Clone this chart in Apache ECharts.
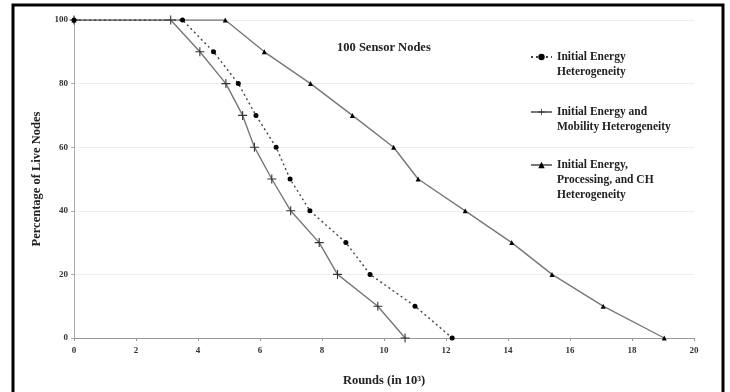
<!DOCTYPE html>
<html>
<head>
<meta charset="utf-8">
<script src="https://cdn.jsdelivr.net/npm/echarts@6/dist/echarts.min.js"></script>
<style>
html,body{margin:0;padding:0;background:#fff;}
#chart{width:730px;height:392px;}
</style>
</head>
<body>
<div id="chart"></div>
<script>
// Data (x in thousands of rounds, y in % live nodes)
const seriesNames = [
  'Initial Energy\nHeterogeneity',
  'Initial Energy and\nMobility Heterogeneity',
  'Initial Energy,\nProcessing, and CH\nHeterogeneity'
];
const xTicks = [0, 2, 4, 6, 8, 10, 12, 14, 16, 18, 20];
const yTicks = [0, 20, 40, 60, 80, 100];
const energyX = [0, 3.5, 4.5, 5.3, 5.87, 6.52, 6.97, 7.61, 8.77, 9.55, 11.0, 12.2];
const energyY = [100, 100, 90, 80, 70, 60, 50, 40, 30, 20, 10, 0];
const mobilityX = [0, 3.12, 4.06, 4.9, 5.44, 5.82, 6.38, 6.99, 7.91, 8.5, 9.8, 10.68];
const mobilityY = [100, 100, 90, 80, 70, 60, 50, 40, 30, 20, 10, 0];
const processingX = [0, 4.88, 6.14, 7.63, 8.98, 10.31, 11.1, 12.62, 14.12, 15.42, 17.07, 19.04];
const processingY = [100, 100, 90, 80, 70, 60, 50, 40, 30, 20, 10, 0];

const pair = (xs, ys) => xs.map((x, i) => [x, ys[i]]);
const plusPath = 'path://M4.4,0 L5.6,0 L5.6,4.4 L10,4.4 L10,5.6 L5.6,5.6 L5.6,10 L4.4,10 L4.4,5.6 L0,5.6 L0,4.4 L4.4,4.4 Z';
const serif = '"Liberation Serif", "DejaVu Serif", serif';

const chart = echarts.init(document.getElementById('chart'));
function legendBox(name, top) {
  const lines = name.split('\n').length;
  return {
    data: [name],
    formatter: n => '\n'.repeat(lines - 1) + n,
    orient: 'vertical', left: 530, top: top, padding: 0,
    itemWidth: 21, itemHeight: 8, itemGap: 0,
    selectedMode: false,
    textStyle: { fontFamily: serif, fontWeight: 'bold', fontSize: 11.5, color: '#222', lineHeight: 15 }
  };
}
chart.setOption({
  animation: false,
  backgroundColor: '#fff',
  title: {
    text: '100 Sensor Nodes', left: 332, top: 36,
    textStyle: { fontFamily: serif, fontWeight: 'bold', fontSize: 12.5, color: '#222' }
  },
  legend: [
    legendBox(seriesNames[0], 34.5),
    legendBox(seriesNames[1], 89.5),
    legendBox(seriesNames[2], 127.5)
  ],
  grid: { left: 74, right: 36, top: 20, bottom: 52 },
  xAxis: {
    type: 'value', min: 0, max: 20, interval: 2,
    name: 'Rounds (in 10³)', nameLocation: 'middle', nameGap: 36,
    nameTextStyle: { fontFamily: serif, fontWeight: 'bold', fontSize: 12.5, color: '#222' },
    axisLine: { lineStyle: { color: '#999', width: 1 } },
    axisTick: { show: true, length: 3, lineStyle: { color: '#999' } },
    axisLabel: { fontFamily: serif, fontWeight: 'bold', fontSize: 9, color: '#333', margin: 8,
      formatter: v => xTicks.includes(v) ? String(v) : '' },
    splitLine: { show: false }
  },
  yAxis: {
    type: 'value', min: 0, max: 100, interval: 20,
    name: 'Percentage of Live Nodes', nameLocation: 'middle', nameGap: 27,
    nameTextStyle: { fontFamily: serif, fontWeight: 'bold', fontSize: 12.5, color: '#222' },
    axisLine: { show: true, lineStyle: { color: '#aaa', width: 1 } },
    axisTick: { show: true, length: 3, lineStyle: { color: '#aaa' } },
    axisLabel: { fontFamily: serif, fontWeight: 'bold', fontSize: 9, color: '#333', margin: 6,
      formatter: v => yTicks.includes(v) ? String(v) : '' },
    splitLine: { show: true, lineStyle: { color: '#eeeeee', width: 1 } }
  },
  graphic: [{
    type: 'rect', shape: { x: 13, y: 5, width: 710, height: 400 },
    style: { fill: 'none', stroke: '#000', lineWidth: 3 }, silent: true, z: 100
  }],
  series: [
    {
      name: seriesNames[0], type: 'line', data: pair(energyX, energyY),
      symbol: 'circle', symbolSize: 5,
      lineStyle: { color: '#444', width: 1.4, type: [2, 3] },
      itemStyle: { color: '#000' }, z: 3
    },
    {
      name: seriesNames[1], type: 'line', data: pair(mobilityX, mobilityY),
      symbol: plusPath, symbolSize: 9,
      lineStyle: { color: '#777', width: 1.4, type: 'solid' },
      itemStyle: { color: '#333' }, z: 2
    },
    {
      name: seriesNames[2], type: 'line', data: pair(processingX, processingY),
      symbol: 'triangle', symbolSize: 5,
      lineStyle: { color: '#777', width: 1.4, type: 'solid' },
      itemStyle: { color: '#000' }, z: 2
    }
  ]
});
</script>
</body>
</html>
